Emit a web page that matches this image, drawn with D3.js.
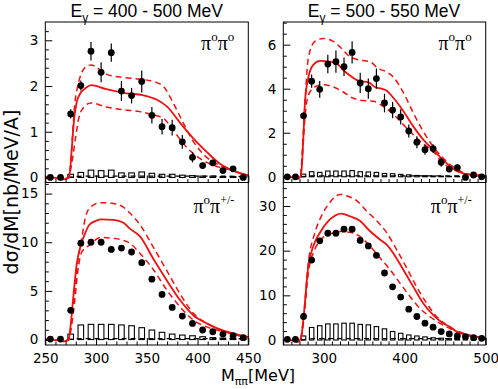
<!DOCTYPE html>
<html><head><meta charset="utf-8">
<script src="https://cdn.jsdelivr.net/npm/d3@7"></script>
<style>body{margin:0;background:#fff}svg{display:block}</style>
</head><body><svg id="c" width="498" height="389"></svg>
<script>
// ---------------- DATA ----------------
const titleLeft = "400 - 500 MeV";
const titleRight = "500 - 550 MeV";
const massLeft  = [255,265,275,285,295,305,315,325,335,345,355,365,375,385,395,405,415,425,435,445];
const massRight = [255,265,275,285,295,305,315,325,335,345,355,365,375,385,395,405,415,425,435,445,455,465,475,485,495];
const barMassLeft  = [275,285,295,305,315,325,335,345,355,365,375,385,395,405,415,425,435,445];
const barMassRight = [275,285,295,305,315,325,335,345,355,365,375,385,395,405,415,425,435,445,455,465,475,485,495];

const xTicksLeft = [250,300,350,400,450];
const xTicksRight = [300,400,500];
const yTicksTL = [0,1,2,3];
const yTicksBL = [0,5,10,15];
const yTicksTR = [0,2,4,6];
const yTicksBR = [0,10,20,30];

// pi0 pi0, 400-500 MeV
const tlData = [0,0,1.39,2.01,2.76,2.30,2.73,1.89,1.79,2.10,1.36,1.11,1.09,0.78,0.44,0.26,0.32,0.15,0.19,0.0];
const tlErr  = [0.02,0.02,0.10,0.11,0.20,0.22,0.20,0.22,0.17,0.24,0.18,0.17,0.17,0.15,0.11,0.07,0.07,0.05,0.05,0.03];
const tlBars = [0.07,0.11,0.16,0.15,0.16,0.10,0.10,0.12,0.09,0.07,0.07,0.05,0.04,0.03,0.03,0.02,0.02,0.01];
const tlSolid = [[250,0],[262,-0.01],[268,-0.04],[273.5,0],[276,0.6],[278.5,1.3],[281,1.65],[284,1.82],[290,1.96],[295,2.02],[310,1.93],[330,1.84],[346,1.80],[360,1.70],[370,1.55],[383,1.19],[396,0.85],[409,0.56],[422,0.30],[435,0.15],[448,0.05],[450,0.04]];
const tlUpper = [[250,0],[262,-0.01],[268,-0.03],[273,0],[275,0.3],[277,1.0],[279,1.6],[282,2.0],[286,2.3],[290,2.42],[295,2.46],[310,2.26],[326,2.19],[343,2.15],[356,2.10],[366,2.0],[376,1.63],[386,1.19],[396,0.78],[409,0.44],[422,0.26],[435,0.15],[448,0.06],[450,0.05]];
const tlLower = [[250,0],[262,-0.01],[268,-0.03],[273,0],[276,0.3],[280,0.9],[283,1.3],[286,1.48],[295,1.63],[310,1.54],[327,1.48],[343,1.44],[356,1.37],[366,1.30],[376,1.04],[386,0.74],[396,0.52],[409,0.33],[422,0.22],[435,0.15],[448,0.06],[450,0.05]];
const tlBkg = [[272,0.0],[290,0.03],[400,0.03],[450,0.02]];

// pi0 pi+/-, 400-500 MeV
const blData = [0.05,0.05,3.0,9.9,10.0,10.0,9.26,9.4,9.0,7.9,6.2,4.64,3.3,2.41,1.66,0.98,0.8,0.56,0.4,0.19];
const blBars = [0.56,1.5,1.56,1.56,1.56,1.5,1.42,1.22,0.98,0.74,0.56,0.46,0.39,0.29,0.2,0.15,0.1,0.05];
const blSolid = [[250,0],[262,-0.05],[268,-0.2],[273,0],[275.5,2],[277.6,4.4],[281,7.8],[285,9.7],[288.4,10.7],[293.4,11.8],[300,12.2],[305,12.35],[317,12.3],[327,12.0],[333.4,11.4],[343.3,10.6],[356.4,8.3],[369.6,6.1],[382.7,4.06],[395.8,2.5],[409,1.66],[422,1.04],[435,0.63],[448.4,0.3],[450,0.27]];
const blUpper = [[250,0],[262,-0.05],[268,-0.2],[273,0],[276,2],[279,5],[282,8],[285.9,10.4],[289,12.3],[293.4,13.5],[303.9,14.05],[310.5,14.05],[323.6,13.8],[333.4,13.0],[343.3,11.8],[356.4,9.5],[369.6,7.1],[382.7,4.7],[395.8,2.7],[409,1.66],[422,1.04],[435,0.56],[448,0.27],[450,0.25]];
const blLower = [[250,0],[262,-0.05],[268,-0.2],[273,0],[276,1.5],[279,4],[282,7],[286,9.0],[293.4,9.7],[305,10.5],[317,10.4],[327,10.2],[333.4,9.9],[343.3,8.85],[356.4,7.2],[369.6,5.1],[382.7,3.37],[395.8,2.0],[409,1.3],[422,0.9],[435,0.56],[448,0.27],[450,0.25]];
const blBkg = [[272,0.0],[290,0.1],[400,0.1],[450,0.08]];

// pi0 pi0, 500-550 MeV
const trData = [0,0,2.77,4.34,3.97,5.12,5.23,5.0,5.65,4.26,4.0,4.46,3.35,3.03,2.72,2.08,1.57,1.23,1.28,0.66,0.35,0.42,-0.03,0.08,0.0];
const trErr  = [0.03,0.03,0.15,0.3,0.38,0.42,0.5,0.42,0.5,0.46,0.46,0.46,0.42,0.37,0.35,0.3,0.27,0.23,0.2,0.2,0.15,0.15,0.08,0.08,0.05];
const trBars = [0.12,0.23,0.2,0.26,0.26,0.26,0.28,0.23,0.22,0.2,0.15,0.14,0.11,0.09,0.06,0.05,0.04,0.03,0.02,0.02,0.01,0.01,0.01];
const trSolid = [[250,0],[262,-0.02],[268,-0.08],[271,0],[273,0.5],[275,2],[276.8,3.4],[280.9,4.5],[287,5.08],[295.2,5.26],[307.6,5.23],[315.8,5.15],[324,4.85],[332.2,4.6],[344.6,4.34],[354.8,4.3],[363,4.08],[371.3,4.0],[377.4,3.92],[385.6,3.6],[398,3.0],[410.3,2.3],[422.6,1.7],[435,1.23],[447.3,0.77],[459.6,0.38],[472,0.15],[484.3,0.08],[500,0.04]];
const trUpper = [[250,0],[262,-0.02],[268,-0.08],[271,0],[274,1.5],[277,3.5],[280.9,5.4],[289,6.15],[299.3,6.28],[311.7,6.15],[319.9,5.9],[332.2,5.46],[344.6,5.3],[356.9,5.23],[367.2,4.92],[377.4,4.77],[385.6,4.54],[398,3.85],[410.3,2.92],[422.6,2.08],[435,1.38],[447.3,0.85],[459.6,0.46],[472,0.2],[484.3,0.08],[500,0.04]];
const trLower = [[250,0],[262,-0.02],[268,-0.08],[271,0],[274,1.2],[277,2.8],[280.9,3.7],[289,4.08],[299.3,4.18],[311.7,4.08],[324,3.85],[336.3,3.57],[348.6,3.46],[361,3.43],[373.3,3.2],[385.6,2.85],[398,2.38],[410.3,1.92],[422.6,1.5],[435,1.15],[447.3,0.62],[459.6,0.34],[472,0.15],[484.3,0.08],[500,0.04]];
const trBkg = [[272,0.0],[290,0.04],[420,0.04],[500,0.03]];

// pi0 pi+/-, 500-550 MeV
const brData = [0.15,0.15,5.26,17.9,22.2,23.9,23.9,24.8,24.8,22.3,21.05,18.95,15.0,11.9,9.6,6.9,5.26,3.76,2.86,1.88,1.35,0.9,0.75,0.53,0.38];
const brBars = [0.9,2.8,3.2,3.6,3.6,3.76,3.76,3.5,3.4,3.0,2.5,1.9,1.5,1.13,0.9,0.7,0.5,0.4,0.3,0.2,0.15,0.1,0.05];
const brSolid = [[250,0],[262,-0.1],[268,-0.4],[272,0.5],[274.7,4.5],[280.9,16.5],[287,21],[295.2,24],[307.6,27.0],[322,28.3],[332.2,27.7],[344.6,26.7],[356.9,24.4],[369.3,22.5],[377.4,21.4],[385.6,19.5],[398,15.8],[410.3,12.0],[422.6,8.3],[435,5.6],[447.3,3.76],[455.5,3.0],[463.8,1.9],[476.1,1.1],[488.4,0.75],[500,0.4]];
const brUpper = [[250,0],[262,-0.1],[268,-0.4],[271,0],[275,5],[280.9,17.3],[289,24],[297.2,27.8],[307.6,30.8],[319.9,32.6],[328.1,32.3],[340.5,31.2],[352.8,28.9],[365.2,26.7],[377.4,24.1],[389.8,20.3],[402.2,16.2],[414.5,12.0],[426.8,8.3],[439.2,5.26],[451.4,3.4],[463.8,2.1],[476.1,1.3],[488.4,0.75],[500,0.4]];
const brLower = [[250,0],[262,-0.1],[268,-0.4],[271,0],[275,4],[280.9,15],[289,20.3],[297.2,22.6],[307.6,23.7],[319.9,24.3],[332.2,24.1],[344.6,23.2],[356.9,21.05],[369.3,18.4],[381.6,15.8],[393.9,12.8],[406.2,9.8],[418.6,7.1],[430.9,5.26],[443.2,3.76],[455.5,2.6],[467.9,1.6],[480.2,1.0],[500,0.4]];
const brBkg = [[272,0.0],[290,0.3],[420,0.3],[500,0.25]];

// ---------------- DRAWING ----------------
const svg = d3.select("#c");
const RED = "#ee1111";
const FONT = "DejaVu Sans";

const xL = d3.scaleLinear().domain([250,450]).range([45.3,248.3]);
const xR = d3.scaleLinear().domain([250,500]).range([283.3,485.7]);
const TOP = [182.5,22], BOT = [345,182.5];

const panels = [
  {x:xL, y:d3.scaleLinear().domain([-0.11,3.4]).range(TOP), data:tlData, err:tlErr, mass:massLeft, barMass:barMassLeft, bars:tlBars, solid:tlSolid, upper:tlUpper, lower:tlLower, bkg:tlBkg, yt:yTicksTL, yminor:0.2, xt:xTicksLeft, xmid:[], labels:false, lab:"pp"},
  {x:xL, y:d3.scaleLinear().domain([-0.56,16.14]).range(BOT), data:blData, err:null, mass:massLeft, barMass:barMassLeft, bars:blBars, solid:blSolid, upper:blUpper, lower:blLower, bkg:blBkg, yt:yTicksBL, yminor:1, xt:xTicksLeft, xmid:[], labels:true, lab:"pc"},
  {x:xR, y:d3.scaleLinear().domain([-0.26,7.03]).range(TOP), data:trData, err:trErr, mass:massRight, barMass:barMassRight, bars:trBars, solid:trSolid, upper:trUpper, lower:trLower, bkg:trBkg, yt:yTicksTR, yminor:0.5, xt:xTicksRight, xmid:[250,350,450], labels:false, lab:"pp"},
  {x:xR, y:d3.scaleLinear().domain([-1.12,35.26]).range(BOT), data:brData, err:null, mass:massRight, barMass:barMassRight, bars:brBars, solid:brSolid, upper:brUpper, lower:brLower, bkg:brBkg, yt:yTicksBR, yminor:2, xt:xTicksRight, xmid:[250,350,450], labels:true, lab:"pc"}
];

panels.forEach(p => {
  const g = svg.append("g");
  const x = p.x, y = p.y;
  const [x0,x1] = x.range();
  const [yb,yt] = y.range();
  const line = d3.line().x(d=>x(d[0])).y(d=>y(d[1])).curve(d3.curveMonotoneX);

  // histogram bars
  const bw = 5.5;
  g.selectAll(".bar").data(p.bars).join("rect")
    .attr("x",(d,i)=>x(p.barMass[i]-bw/2)).attr("width",(d,i)=>x(p.barMass[i]+bw/2)-x(p.barMass[i]-bw/2))
    .attr("y",d=>y(d)).attr("height",d=>y(0)-y(d))
    .attr("fill","none").attr("stroke","#000").attr("stroke-width",1.1);
  // black dashed background
  g.append("path").attr("d",line(p.bkg)).attr("fill","none").attr("stroke","#000").attr("stroke-width",1.4).attr("stroke-dasharray","5,4");
  // red curves
  g.append("path").attr("d",line(p.upper)).attr("fill","none").attr("stroke",RED).attr("stroke-width",1.5).attr("stroke-dasharray","6,4");
  g.append("path").attr("d",line(p.lower)).attr("fill","none").attr("stroke",RED).attr("stroke-width",1.5).attr("stroke-dasharray","6,4");
  g.append("path").attr("d",line(p.solid)).attr("fill","none").attr("stroke",RED).attr("stroke-width",1.8);
  // error bars
  if (p.err) {
    g.selectAll(".eb").data(p.data).join("line")
      .attr("x1",(d,i)=>x(p.mass[i])).attr("x2",(d,i)=>x(p.mass[i]))
      .attr("y1",(d,i)=>y(d-p.err[i])).attr("y2",(d,i)=>y(d+p.err[i]))
      .attr("stroke","#000").attr("stroke-width",1.2);
  }
  // points
  g.selectAll(".pt").data(p.data).join("circle")
    .attr("cx",(d,i)=>x(p.mass[i])).attr("cy",d=>y(d)).attr("r",3.4).attr("fill","#000");

  // axes
  const yMin = d3.range(Math.ceil(y.domain()[0]/p.yminor)*p.yminor, y.domain()[1], p.yminor).filter(v=>!p.yt.some(t=>Math.abs(t-v)<1e-6));
  g.append("g").attr("transform",`translate(${x0},0)`)
    .call(d3.axisLeft(y).tickValues(p.yt).tickSize(-7).tickPadding(7).tickFormat(d3.format("d")));
  g.append("g").attr("transform",`translate(${x0},0)`)
    .call(d3.axisLeft(y).tickValues(yMin).tickSize(-3.5).tickFormat(""));
  const xMin = d3.range(250, x.domain()[1]+1, 10).filter(v=>!p.xt.includes(v) && !p.xmid.includes(v));
  g.append("g").attr("transform",`translate(0,${yb})`)
    .call(d3.axisBottom(x).tickValues(p.xt).tickSize(-7).tickPadding(8).tickFormat(p.labels?d3.format("d"):""));
  g.append("g").attr("transform",`translate(0,${yb})`)
    .call(d3.axisBottom(x).tickValues(p.xmid).tickSize(-5).tickFormat(""));
  g.append("g").attr("transform",`translate(0,${yb})`)
    .call(d3.axisBottom(x).tickValues(xMin).tickSize(-3.5).tickFormat(""));
  g.selectAll(".domain").remove();
  g.selectAll(".tick line").attr("stroke","#000").attr("stroke-width",1);
  g.selectAll(".tick text").attr("font-family",FONT).attr("font-size",13.5).attr("fill","#000");

  // frame
  g.append("rect").attr("x",x0).attr("y",yt).attr("width",x1-x0).attr("height",yb-yt)
    .attr("fill","none").attr("stroke","#000").attr("stroke-width",1);

  // panel label
  const t = g.append("text").attr("x",x1-14).attr("y",p.lab==="pp"?yt+28:yt+30)
    .attr("text-anchor","end").attr("font-family","Liberation Serif").attr("font-size",20).attr("fill","#000");
  if (p.lab==="pp") {
    t.append("tspan").text("π");
    t.append("tspan").attr("font-size",13).attr("dy",-9).text("o");
    t.append("tspan").attr("dy",9).text("π");
    t.append("tspan").attr("font-size",13).attr("dy",-9).text("o");
  } else {
    t.append("tspan").text("π");
    t.append("tspan").attr("font-size",13).attr("dy",-9).text("o");
    t.append("tspan").attr("dy",9).text("π");
    t.append("tspan").attr("font-size",12).attr("dy",-9).text("+/-");
  }
});

// titles
function title(cx, txt){
  const t = svg.append("text").attr("x",cx).attr("y",16.5).attr("text-anchor","middle")
    .attr("font-family","Liberation Sans").attr("font-size",17.5).attr("fill","#000");
  t.append("tspan").text("E");
  t.append("tspan").attr("font-size",12).attr("dy",5).text("γ");
  t.append("tspan").attr("dy",-5).text(" = " + txt);
}
title(146.7, titleLeft);
title(384, titleRight);

// x axis title
const xt = svg.append("text").attr("x",258).attr("y",381).attr("text-anchor","middle")
  .attr("font-family",FONT).attr("font-size",16).attr("fill","#000");
xt.append("tspan").text("M");
xt.append("tspan").attr("font-size",11).attr("dy",4).text("ππ");
xt.append("tspan").attr("dy",-4).text("[MeV]");

// y axis title
svg.append("text").attr("transform","translate(18,192) rotate(-90)").attr("text-anchor","middle")
  .attr("font-family",FONT).attr("font-size",19).attr("fill","#000").text("dσ/dM[nb/MeV/A]");
</script>
</body></html>
